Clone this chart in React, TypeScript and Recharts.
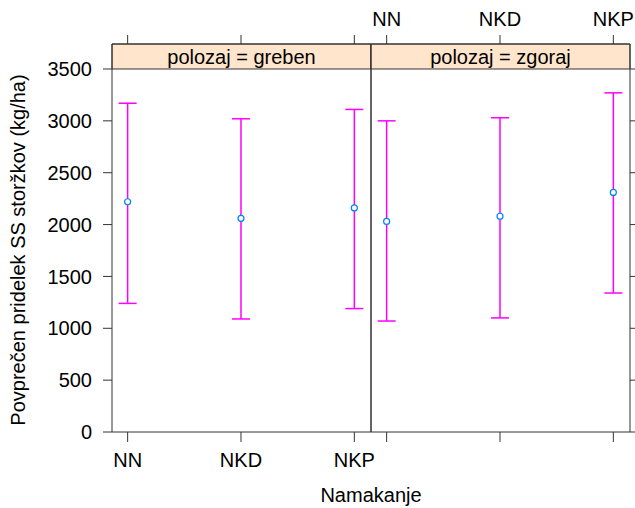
import {
  ScatterChart,
  Scatter,
  XAxis,
  YAxis,
  ErrorBar,
  ReferenceArea,
} from "recharts";

const namakanje = ["NN", "NKD", "NKP"];
const yTicks = [0, 500, 1000, 1500, 2000, 2500, 3000, 3500];

const grebenMean = [2220, 2060, 2160];
const grebenLow = [1240, 1090, 1190];
const grebenHigh = [3170, 3020, 3110];

const zgorajMean = [2030, 2080, 2310];
const zgorajLow = [1070, 1100, 1340];
const zgorajHigh = [3000, 3030, 3270];

const font = "'Liberation Sans', Arial, Helvetica, sans-serif";
const axisCol = "#333333";
const xDomain = [0.862, 3.147];
// top of y domain leaves room for the strip above 3500
const yDomain = [0, 3741];

function rows(mean: number[], low: number[], high: number[]) {
  return namakanje.map((_, i) => ({
    x: i + 1,
    mean: mean[i],
    err: [mean[i] - low[i], high[i] - mean[i]],
  }));
}

const Dot = (props: any) => (
  <circle cx={props.cx} cy={props.cy} r={3} fill="#fff" stroke="#0080ff" strokeWidth={1.2} />
);
const Nothing = () => <g />;

function Panel({
  data,
  strip,
  left,
}: {
  data: { x: number; mean: number; err: number[] }[];
  strip: string;
  left: boolean;
}) {
  const tickStyle = { fill: "#000", fontSize: 20, fontFamily: font };
  const catFmt = (v: number) => namakanje[v - 1] ?? "";
  return (
    <ScatterChart
      width={635}
      height={508}
      margin={left ? { top: 0, right: 263, bottom: 36, left: 0 } : { top: 0, right: 0, bottom: 36, left: 370 }}
      style={{ position: "absolute", left: 0, top: 0, fontFamily: font }}
    >
      <XAxis
        xAxisId="b"
        type="number"
        dataKey="x"
        domain={xDomain}
        ticks={[1, 2, 3]}
        tickFormatter={left ? catFmt : () => ""}
        height={40}
        tickSize={10}
        tickMargin={11}
        tick={tickStyle}
        stroke={axisCol}
        label={
          left
            ? {
                content: (p: any) => (
                  <text
                    x={p.viewBox.x + p.viewBox.width}
                    y={p.viewBox.y + 70}
                    textAnchor="middle"
                    fontSize={20}
                    fontFamily={font}
                    fill="#000"
                  >
                    Namakanje
                  </text>
                ),
              }
            : undefined
        }
      />
      <XAxis
        xAxisId="t"
        orientation="top"
        type="number"
        dataKey="x"
        domain={xDomain}
        ticks={[1, 2, 3]}
        tickFormatter={left ? () => "" : catFmt}
        height={44}
        tickSize={9}
        tickMargin={9}
        tick={tickStyle}
        stroke={axisCol}
      />
      <YAxis
        yAxisId="l"
        type="number"
        domain={yDomain}
        ticks={yTicks}
        width={left ? 112 : 1}
        tickSize={9}
        tickMargin={11}
        tick={left ? tickStyle : false}
        tickLine={left}
        stroke={axisCol}
        label={
          left
            ? {
                content: (p: any) => (
                  <text
                    x={18}
                    y={p.viewBox.y + p.viewBox.height / 2 + 12}
                    transform={`rotate(-90 18 ${p.viewBox.y + p.viewBox.height / 2 + 12})`}
                    textAnchor="middle"
                    dominantBaseline="central"
                    fontSize={20}
                    fontFamily={font}
                    fill="#000"
                  >
                    Povprečen pridelek SS storžkov (kg/ha)
                  </text>
                ),
              }
            : undefined
        }
      />
      <YAxis
        yAxisId="r"
        orientation="right"
        type="number"
        domain={yDomain}
        ticks={yTicks}
        width={left ? 1 : 5}
        tickSize={9}
        tick={left ? false : tickStyle}
        tickFormatter={() => ""}
        tickLine={!left}
        stroke={axisCol}
      />
      <ReferenceArea
        xAxisId="b"
        yAxisId="l"
        y1={3500}
        y2={yDomain[1]}
        fill="#ffe5cc"
        fillOpacity={1}
        stroke={axisCol}
        label={{ value: strip, position: "center", fill: "#000", fontSize: 20, fontFamily: font }}
      />
      {/* invisible copy so the top and right axes get drawn */}
      <Scatter
        xAxisId="t"
        yAxisId="r"
        data={data}
        dataKey="mean"
        shape={Nothing}
        isAnimationActive={false}
      />
      <Scatter
        xAxisId="b"
        yAxisId="l"
        data={data}
        dataKey="mean"
        shape={Dot}
        isAnimationActive={false}
      >
        <ErrorBar
          dataKey="err"
          direction="y"
          width={9}
          stroke="#ff00ff"
          strokeWidth={1.5}
          isAnimationActive={false}
        />
      </Scatter>
    </ScatterChart>
  );
}

export default function App() {
  return (
    <div style={{ position: "absolute", left: 0, top: 0, width: 635, height: 508, background: "#fff" }}>
      <Panel data={rows(grebenMean, grebenLow, grebenHigh)} strip="polozaj = greben" left={true} />
      <Panel data={rows(zgorajMean, zgorajLow, zgorajHigh)} strip="polozaj = zgoraj" left={false} />
    </div>
  );
}
